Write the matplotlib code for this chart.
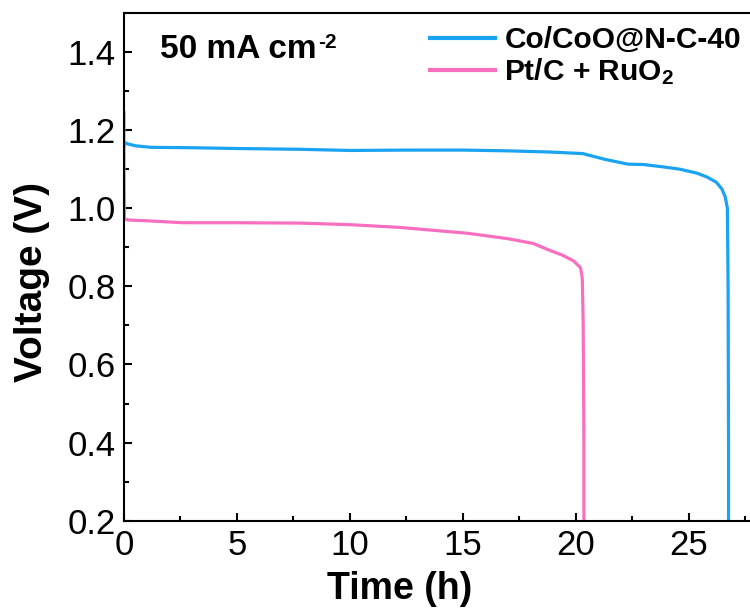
import matplotlib
matplotlib.use("Agg")
import matplotlib.pyplot as plt
from matplotlib.ticker import MultipleLocator

plt.rcParams['font.family'] = ['Liberation Sans', 'DejaVu Sans']
plt.rcParams['mathtext.fontset'] = 'custom'
plt.rcParams['mathtext.rm'] = 'Liberation Sans:bold'
plt.rcParams['mathtext.bf'] = 'Liberation Sans:bold'
plt.rcParams['mathtext.default'] = 'rm'

# Discharge curves at 50 mA cm-2
co_time = [0.0, 0.05, 0.15, 0.5, 1.2, 3.0, 5.0, 7.8, 10.0, 12.5, 15.0, 17.0, 18.85, 20.3,
           21.3, 22.3, 23.0, 23.85, 24.6, 25.35, 25.8, 26.2, 26.45, 26.6, 26.7, 26.73, 26.75, 26.75]
co_volt = [1.16, 1.168, 1.165, 1.16, 1.156, 1.155, 1.153, 1.151, 1.148, 1.149, 1.149, 1.147, 1.144, 1.140,
           1.125, 1.113, 1.112, 1.106, 1.100, 1.090, 1.080, 1.067, 1.050, 1.030, 1.000, 0.800, 0.400, 0.200]

pt_time = [0.0, 0.0, 0.02, 0.2, 1.0, 2.6, 5.0, 7.8, 10.0, 12.2, 15.2, 17.0, 18.1, 18.85, 19.4,
           19.9, 20.2, 20.28, 20.32, 20.35, 20.35]
pt_volt = [1.245, 1.10, 0.972, 0.970, 0.968, 0.963, 0.963, 0.962, 0.958, 0.951, 0.936, 0.922, 0.910, 0.892, 0.880,
           0.865, 0.848, 0.820, 0.700, 0.400, 0.200]

series_labels = ['Co/CoO@N-C-40', 'Pt/C + RuO$_2$']
series_colors = ['#1AA3F0', '#F86FC0']

x_ticks = [0, 5, 10, 15, 20, 25]
y_ticks = [0.2, 0.4, 0.6, 0.8, 1.0, 1.2, 1.4]

fig = plt.figure(figsize=(7.5, 6.15), dpi=100)
ax = fig.add_axes([124 / 750, 1 - 520.7 / 615, 1 - 124 / 750, (520.7 - 13) / 615])

ax.plot(co_time, co_volt, color=series_colors[0], lw=2.3, label=series_labels[0], solid_joinstyle='round')
ax.plot(pt_time, pt_volt, color=series_colors[1], lw=2.3, label=series_labels[1], solid_joinstyle='round')

ax.set_xlim(0, 27.7)
ax.set_ylim(0.2, 1.5)
ax.set_xticks(x_ticks)
ax.set_yticks(y_ticks)
ax.set_yticklabels([f'{v:.1f}' for v in y_ticks])
ax.xaxis.set_minor_locator(MultipleLocator(2.5))
ax.yaxis.set_minor_locator(MultipleLocator(0.1))
ax.tick_params(which='both', direction='in', top=False, right=False, width=1.5)
ax.tick_params(which='major', length=6, labelsize=25, pad=6)
ax.tick_params(which='minor', length=3.5)
ax.spines['right'].set_visible(False)
for s in ['left', 'bottom', 'top']:
    ax.spines[s].set_linewidth(1.5)

ax.set_xlabel('Time (h)', fontsize=27, fontweight='bold')
ax.xaxis.set_label_coords((400 - 124) / 626, -0.1)
ax.set_ylabel('Voltage (V)', fontsize=28, fontweight='bold')
ax.yaxis.set_label_coords(-0.118, 0.47)

# current density note with a plain hyphen in the exponent
note = ax.text(0.057, 0.928, '50 mA cm', transform=ax.transAxes, fontsize=24,
               fontweight='bold', va='center', ha='left')
ax.annotate('-2', xy=(1.0, 1.0), xycoords=note, xytext=(1, 1), textcoords='offset points',
            fontsize=15, fontweight='bold', va='top', ha='left')

leg = ax.legend(loc='upper left', bbox_to_anchor=(0.455, 1.015), frameon=False,
                prop={'weight': 'bold', 'size': 21.5}, handlelength=2.2, handletextpad=0.3,
                labelspacing=0.08, borderaxespad=0.3)
for line in leg.get_lines():
    line.set_linewidth(3.0)

fig.savefig('out.png', dpi=100)
